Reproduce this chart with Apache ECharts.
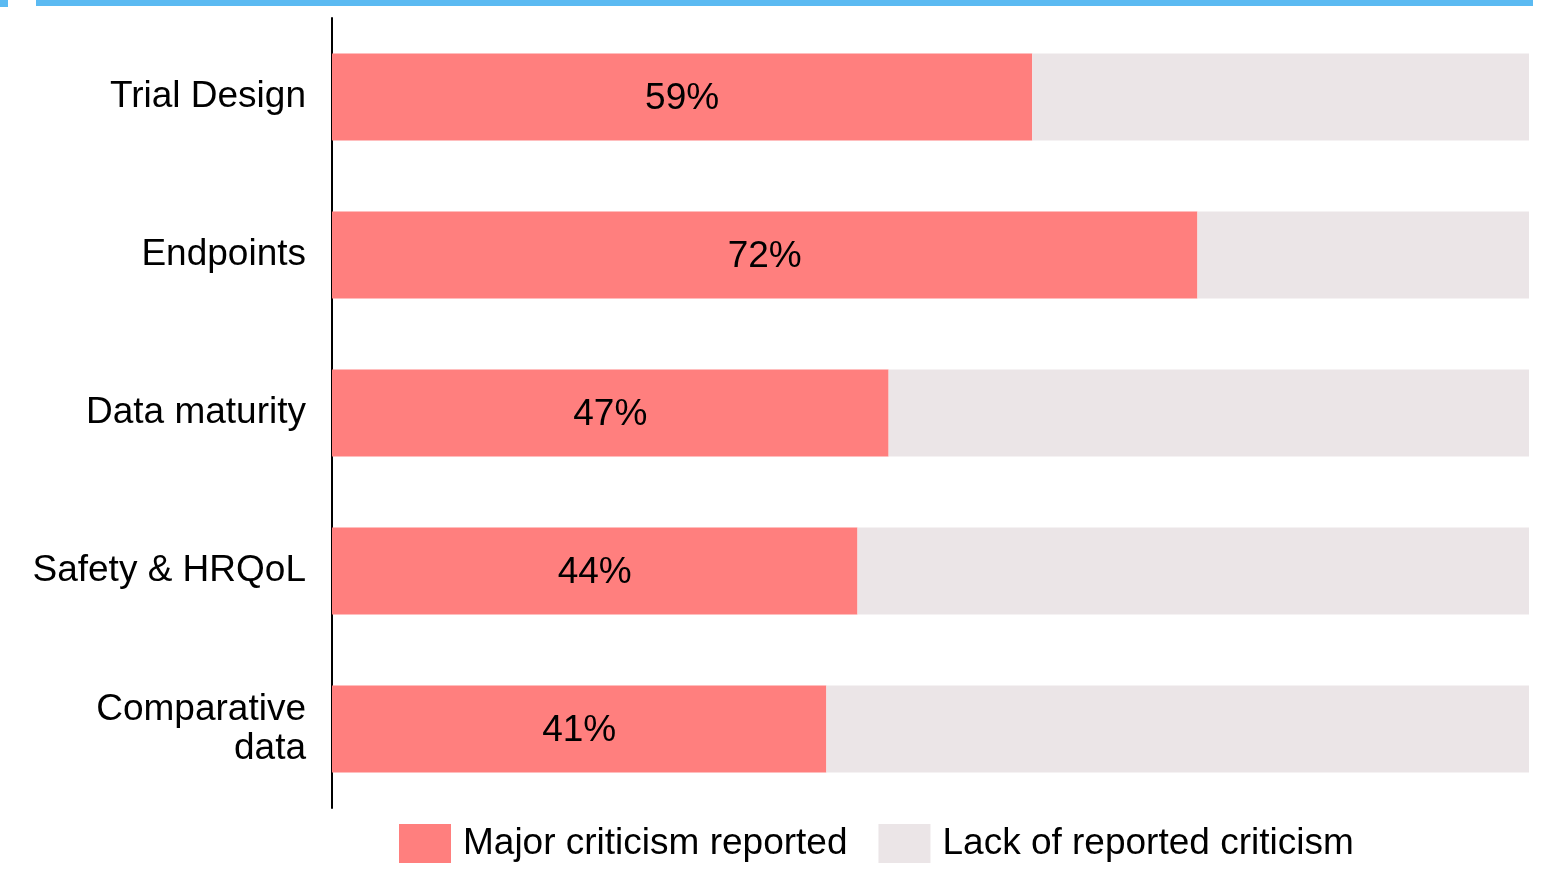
<!DOCTYPE html>
<html><head><meta charset="utf-8">
<script src="https://cdn.jsdelivr.net/npm/echarts@6/dist/echarts.min.js"></script>
<style>html,body{margin:0;padding:0;background:#fff}#c{width:1543px;height:876px}</style>
</head><body><div id="c"></div>
<script>
const categories = ["Trial Design", "Endpoints", "Data maturity", "Safety & HRQoL", "Comparative\ndata"];
const majorValues = [58.5, 72.3, 46.5, 43.9, 41.3];
const majorLabels = ["59%", "72%", "47%", "44%", "41%"];
const lackValues = [41.5, 27.7, 53.5, 56.1, 58.7];
const seriesNames = ["Major criticism reported", "Lack of reported criticism"];

const FONT = '"Liberation Sans", Arial, sans-serif';
const chart = echarts.init(document.getElementById('c'), null, {renderer: 'canvas'});
chart.setOption({
  animation: false,
  backgroundColor: '#ffffff',
  graphic: [
    {type: 'rect', shape: {x: 0, y: 0, width: 8, height: 7}, style: {fill: '#5BBAF2'}},
    {type: 'rect', shape: {x: 36, y: 0, width: 1497, height: 6}, style: {fill: '#5BBAF2'}}
  ],
  grid: {left: 332, top: 18, right: 14, bottom: 68, containLabel: false},
  xAxis: {type: 'value', min: 0, max: 100, show: false},
  yAxis: {
    type: 'category', data: categories, inverse: true,
    axisLine: {show: true, lineStyle: {color: '#000', width: 2}},
    axisTick: {show: false},
    axisLabel: {color: '#000', fontSize: 37, fontFamily: FONT, margin: 26, lineHeight: 39, align: 'right',
      padding: [4, 0, 0, 0]}
  },
  legend: {
    left: 399, top: 824, padding: 0, itemWidth: 52, itemHeight: 39, itemGap: 31,
    icon: 'rect',
    textStyle: {color: '#000', fontSize: 37, fontFamily: FONT, padding: [5, 0, 0, 7]},
    data: seriesNames
  },
  series: [
    {
      name: seriesNames[0], type: 'bar', stack: 't', barWidth: 87,
      data: majorValues,
      itemStyle: {color: '#FF7F7E'},
      label: {show: true, position: 'inside', offset: [0, 2], color: '#000', fontSize: 37, fontFamily: FONT,
        formatter: p => majorLabels[p.dataIndex]}
    },
    {
      name: seriesNames[1], type: 'bar', stack: 't', barWidth: 87,
      data: lackValues,
      itemStyle: {color: '#EBE5E7'}
    }
  ]
});
</script></body></html>
